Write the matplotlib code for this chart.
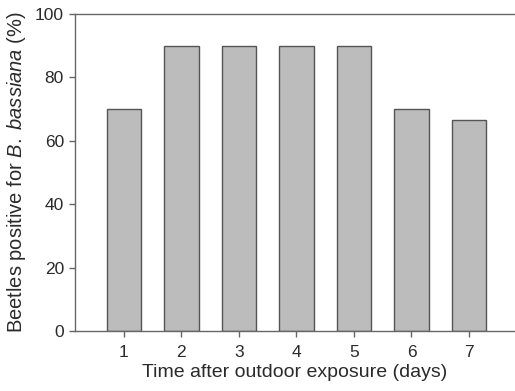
import matplotlib
matplotlib.use("Agg")
import matplotlib.pyplot as plt

days = [1, 2, 3, 4, 5, 6, 7]
positive_pct = [70, 90, 90, 90, 90, 70, 66.7]
y_ticks = [0, 20, 40, 60, 80, 100]

plt.rcParams['font.family'] = ['Liberation Sans', 'DejaVu Sans']
plt.rcParams['mathtext.fontset'] = 'custom'
plt.rcParams['mathtext.rm'] = 'Liberation Sans'
plt.rcParams['mathtext.it'] = 'Liberation Sans:italic'

text_col = '#2a2a2a'
axis_col = '#666666'

fig = plt.figure(figsize=(5.15, 3.91), dpi=100)
ax = fig.add_axes([75 / 515, 1 - 331 / 391, 1 - 75 / 515, (331 - 14) / 391])

ax.bar(days, positive_pct, width=0.6, color='#bcbcbc', edgecolor='#555555', linewidth=1.0)

ax.set_xlim(0.15, 7.8)
ax.set_ylim(0, 100)
ax.set_xticks(days)
ax.set_yticks(y_ticks)

for side in ['left', 'top', 'bottom']:
    ax.spines[side].set_color(axis_col)
    ax.spines[side].set_linewidth(1.0)
ax.spines['right'].set_visible(False)

ax.tick_params(direction='out', length=4, width=1, color=axis_col,
               labelsize=12.5, labelcolor=text_col)
ax.tick_params(axis='x', pad=6)
ax.tick_params(axis='y', pad=4)

ax.set_xlabel('Time after outdoor exposure (days)', fontsize=14, color=text_col, labelpad=3)
ax.set_ylabel('Beetles positive for $\\it{B.\\ bassiana}$ (%)', fontsize=14.5, color=text_col, labelpad=5)

fig.savefig('out.png', dpi=100)
